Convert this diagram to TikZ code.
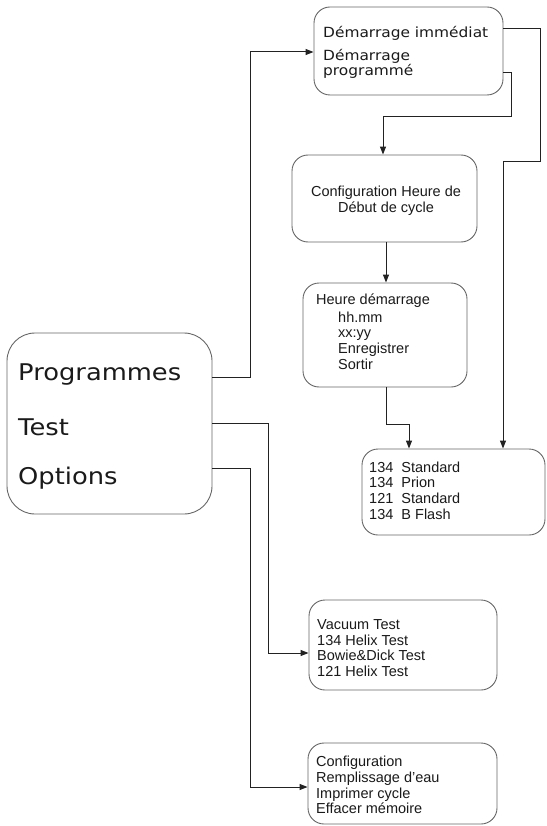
\documentclass[tikz,border=0pt]{standalone}
\usepackage{fontspec}
\setmainfont{Liberation Sans}
\newfontfamily\verd[FakeStretch=1.1]{DejaVu Sans}
\newfontfamily\verdbig[FakeStretch=1.12]{DejaVu Sans}
\usetikzlibrary{arrows.meta}
\definecolor{boxline}{HTML}{666666}
\definecolor{connline}{HTML}{222222}
\definecolor{txt}{HTML}{1A1A1A}
\tikzset{
  box/.style={draw=boxline, line width=0.9pt, rounded corners=16pt, inner sep=0pt, fill=white},
  conn/.style={draw=connline, line width=1pt, -{Triangle[length=8pt,width=6pt]}},
  arialtxt/.style={font=\fontsize{14.5}{15.7}\selectfont, text=txt, align=left, inner sep=0pt, anchor=west},
  verdtxt/.style={font=\verd\fontsize{14}{15.5}\selectfont, text=txt, align=left, inner sep=0pt, anchor=west},
  bigtxt/.style={font=\verdbig\fontsize{23}{26}\selectfont, text=txt, inner sep=0pt, anchor=west},
}
\begin{document}
\begin{tikzpicture}[x=1pt,y=-1pt]
\useasboundingbox (0,0) rectangle (546,826);
% boxes
\node[box, minimum width=205pt, minimum height=181pt, rounded corners=28pt] (main) at (109.5,423.5) {};
\node[box, minimum width=189pt, minimum height=88pt] (dem) at (408.5,51) {};
\node[box, minimum width=185pt, minimum height=87pt] (cfg) at (384.5,198.5) {};
\node[box, minimum width=164pt, minimum height=104pt] (heure) at (385,335) {};
\node[box, minimum width=183pt, minimum height=86pt] (std) at (453.5,492) {};
\node[box, minimum width=188pt, minimum height=90pt] (vac) at (403,645) {};
\node[box, minimum width=189pt, minimum height=81pt] (opt) at (402.5,783.5) {};
% texts
\node[bigtxt] (prog) at (18,375) {Programmes};
\node[bigtxt] (test) at (18,427) {Test};
\node[bigtxt] (optn) at (18,478) {Options};
\node[verdtxt] (dem1) at (323,33) {Démarrage immédiat};
\node[verdtxt] (dem2) at (323,64) {Démarrage\\programmé};
\node[font=\fontsize{14.5}{16}\selectfont, text=txt, align=center, inner sep=0pt] (cfgt) at (386,201) {Configuration Heure de\\Début de cycle};
\node[arialtxt] (heure1) at (316,301) {Heure démarrage};
\node[arialtxt] (heure2) at (338,340.5) {hh.mm\\xx:yy\\Enregistrer\\Sortir};
\node[arialtxt] (stdt) at (369,490.5) {134~~Standard\\134~~Prion\\121~~Standard\\134~~B Flash};
\node[arialtxt] (vact) at (317,648) {Vacuum Test\\134 Helix Test\\Bowie\&Dick Test\\121 Helix Test};
\node[arialtxt] (optt) at (316,785) {Configuration\\Remplissage d’eau\\Imprimer cycle\\Effacer mémoire};
% connectors
\draw[conn] (main.east |- 0,377) -| (250,52) -- (dem.west |- 0,52);
\draw[conn] (main.east |- 0,423) -| (268,653) -- (vac.west |- 0,653);
\draw[conn] (main.east |- 0,468) -| (250,787) -- (opt.west |- 0,787);
\draw[conn] (dem.east |- 0,29) -| (540,162) -| (std.north -| 503,0);
\draw[conn] (dem.east |- 0,73) -| (511,117) -| (cfg.north -| 383,0);
\draw[conn] (cfg.south -| 386,0) -- (heure.north -| 386,0);
\draw[conn] (heure.south -| 386,0) |- (409,424) -- (std.north -| 409,0);
\end{tikzpicture}
\end{document}
